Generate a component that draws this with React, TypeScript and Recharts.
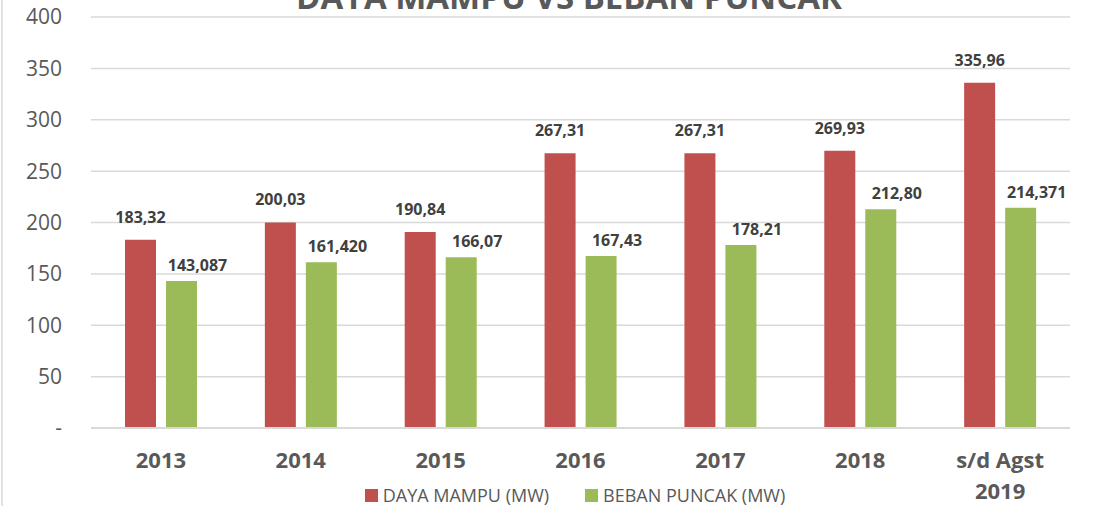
import React from 'react';
import { BarChart, Bar, XAxis, YAxis, CartesianGrid, LabelList } from 'recharts';

const categories = ['2013', '2014', '2015', '2016', '2017', '2018', 's/d Agst\n2019'];
const dayaMampu = [183.32, 200.03, 190.84, 267.31, 267.31, 269.93, 335.96];
const bebanPuncak = [143.087, 161.42, 166.07, 167.43, 178.21, 212.8, 214.371];
const dayaLabels = ['183,32', '200,03', '190,84', '267,31', '267,31', '269,93', '335,96'];
const bebanLabels = ['143,087', '161,420', '166,07', '167,43', '178,21', '212,80', '214,371'];
const yTicks = [0, 50, 100, 150, 200, 250, 300, 350, 400];
const seriesNames = ['DAYA MAMPU (MW)', 'BEBAN PUNCAK (MW)'];
const title = 'DAYA MAMPU VS BEBAN PUNCAK';

const RED = '#C0504D';
const GREEN = '#9BBB59';
const FONT = '"Open Sans", sans-serif';

const data = categories.map((c, i) => ({
  name: c,
  daya: dayaMampu[i],
  beban: bebanPuncak[i],
  dayaLabel: dayaLabels[i],
  bebanLabel: bebanLabels[i],
}));

const XTick = (props: any) => {
  const { x, y, payload } = props;
  const lines = String(payload.value).split('\n');
  return (
    <text x={x} y={y + 40} textAnchor="middle" fill="#595959" fontSize={22} fontWeight={700} fontFamily={FONT}>
      {lines.map((l, i) => (
        <tspan key={i} x={x} dy={i === 0 ? 0 : 31}>{l}</tspan>
      ))}
    </text>
  );
};

const makeLabel = (dx: number, up: number) => (props: any) => {
  const { x, y, width, value } = props;
  return (
    <text x={x + width / 2 + dx} y={y - up} textAnchor="middle" fill="#404040" fontSize={16} fontWeight={700} fontFamily={FONT}>
      {value}
    </text>
  );
};

export default function App() {
  return (
    <div style={{ position: 'absolute', left: 0, top: 0, width: 1095, height: 506, background: '#fff', overflow: 'hidden', fontFamily: FONT }}>
      <BarChart
        width={1095}
        height={506}
        data={data}
        margin={{ top: 17, right: 25, bottom: 0, left: 0 }}
        barSize={31}
        barGap={10}
      >
        <CartesianGrid vertical={false} stroke="#d9d9d9" strokeWidth={1.5} />
        <XAxis
          dataKey="name"
          height={78}
          tickLine={false}
          tickSize={0}
          tickMargin={0}
          axisLine={{ stroke: '#d9d9d9', strokeWidth: 2 }}
          tick={<XTick />}
          interval={0}
        />
        <YAxis
          width={91}
          domain={[0, 400]}
          ticks={yTicks}
          axisLine={false}
          tickLine={false}
          tickSize={0}
          tickMargin={29}
          tickFormatter={(v: number) => (v === 0 ? '-' : String(v))}
          tick={{ fill: '#595959', fontSize: 21, fontFamily: FONT }}
        />
        <Bar dataKey="daya" fill={RED} isAnimationActive={false}>
          <LabelList dataKey="dayaLabel" content={makeLabel(0, 17)} />
        </Bar>
        <Bar dataKey="beban" fill={GREEN} isAnimationActive={false}>
          <LabelList dataKey="bebanLabel" content={makeLabel(16, 10)} />
        </Bar>
      </BarChart>
      <svg width={1095} height={506} style={{ position: 'absolute', left: 0, top: 0, pointerEvents: 'none' }}>
        <line x1={2} y1={0} x2={2} y2={506} stroke="#d9d9d9" strokeWidth={1.5} />
        <text x={569} y={9} textAnchor="middle" fill="#595959" fontSize={33} fontWeight={700} fontFamily={FONT}>
          {title}
        </text>
      </svg>
      <div
        style={{
          position: 'absolute',
          left: 0,
          width: 1150,
          top: 486,
          height: 18,
          display: 'flex',
          justifyContent: 'center',
          alignItems: 'center',
          gap: 36,
          fontSize: 18,
          lineHeight: '18px',
          color: '#595959',
          fontFamily: FONT,
          whiteSpace: 'nowrap',
        }}
      >
        {seriesNames.map((n, i) => (
          <div key={n} style={{ display: 'flex', alignItems: 'center' }}>
            <span style={{ display: 'inline-block', width: 13, height: 13, background: i === 0 ? RED : GREEN, marginRight: 5 }} />
            <span>{n}</span>
          </div>
        ))}
      </div>
    </div>
  );
}
